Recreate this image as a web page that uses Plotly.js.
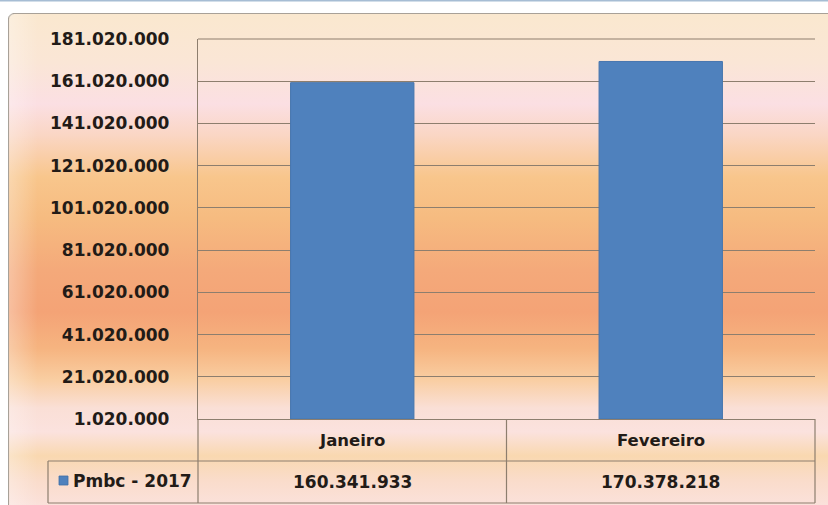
<!DOCTYPE html>
<html>
<head>
<meta charset="utf-8">
<script src="https://cdn.plot.ly/plotly-3.0.1.min.js"></script>
<style>
  html, body { margin: 0; padding: 0; background: #ffffff; }
  #chart { width: 828px; height: 505px; }
</style>
</head>
<body>
<div id="chart"></div>
<script>
// ---- data ----
const categories = ["Janeiro", "Fevereiro"];
const seriesName = "Pmbc - 2017";
const seriesValues = [160341933, 170378218];
const yTickValues = [1020000, 21020000, 41020000, 61020000, 81020000, 101020000, 121020000, 141020000, 161020000, 181020000];

// ---- helpers ----
function fmt(n) {
  return String(Math.round(n)).replace(/\B(?=(\d{3})+(?!\d))/g, ".");
}

const W = 828, H = 505;
const M = { l: 198, r: 13, t: 39, b: 86 };
const PW = W - M.l - M.r, PH = H - M.t - M.b;
const px = x => (x - M.l) / PW;          // pixel x -> paper x
const py = y => (H - M.b - y) / PH;      // pixel y -> paper y

const lineCol = "#8d7e6e";
const textCol = "#221b17";
const fontFam = "DejaVu Sans";

// background gradient as svg image
const bgW = 820, bgH = 492;
const stops = [
  [13, "#fae8cf"], [60, "#fae6d6"], [100, "#fbdfe3"], [130, "#fad6c4"],
  [170, "#f8c68c"], [210, "#f6bb80"], [260, "#f4a97a"], [300, "#f4a376"],
  [335, "#f6b480"], [365, "#f9cea2"], [392, "#fadfd6"], [415, "#fbe2de"],
  [438, "#f9d8b0"], [462, "#fadccb"], [490, "#fbe2de"], [505, "#fbe3df"]
];
let stopXml = stops.map(s => `<stop offset="${((s[0] - 13) / bgH).toFixed(4)}" stop-color="${s[1]}"/>`).join("");
const svg = `<svg xmlns="http://www.w3.org/2000/svg" width="${bgW}" height="${bgH}" viewBox="0 0 ${bgW} ${bgH}">` +
  `<defs><linearGradient id="g" x1="0" y1="0" x2="0" y2="1">${stopXml}</linearGradient>` +
  `<linearGradient id="h" x1="0" y1="0" x2="1" y2="0"><stop offset="0" stop-color="#ffffff" stop-opacity="0.3"/><stop offset="0.035" stop-color="#ffffff" stop-opacity="0"/></linearGradient></defs>` +
  `<rect x="0.5" y="0.5" width="${bgW + 20}" height="${bgH + 20}" rx="6" ry="6" fill="url(#g)" stroke="#a8a198" stroke-width="1.2"/>` +
  `<rect x="1" y="1" width="${bgW}" height="${bgH}" fill="url(#h)"/>` +
  `</svg>`;
const bgSrc = "data:image/svg+xml;charset=utf-8," + encodeURIComponent(svg);

const trace = {
  type: "bar",
  x: categories,
  y: seriesValues.map(v => v - yTickValues[0]),
  base: yTickValues[0],
  name: seriesName,
  width: 0.4,
  marker: { color: "#4f81bd", line: { color: "#4776ae", width: 1 } },
  showlegend: false,
  hoverinfo: "skip"
};

const annotations = [];
categories.forEach((c, i) => {
  annotations.push({
    xref: "x", yref: "paper", x: c, y: py(440), text: c, showarrow: false,
    xanchor: "center", yanchor: "middle",
    font: { family: fontFam, size: 16.5, color: textCol, weight: "bold" }
  });
  annotations.push({
    xref: "x", yref: "paper", x: c, y: py(482), text: fmt(seriesValues[i]), showarrow: false,
    xanchor: "center", yanchor: "middle",
    font: { family: fontFam, size: 17, color: textCol, weight: "bold" }
  });
});
annotations.push({
  xref: "paper", yref: "paper", x: px(71), y: py(481), text: seriesName, showarrow: false,
  xanchor: "left", yanchor: "middle",
  font: { family: fontFam, size: 17, color: textCol, weight: "bold" }
});

const ln = (x0, y0, x1, y1, xr) => ({
  type: "line", xref: xr || "paper", yref: "paper", x0, y0, x1, y1,
  line: { color: lineCol, width: 1.2 }, layer: "above"
});

const shapes = [
  // top thin blue line of the frame
  { type: "line", xref: "paper", yref: "paper", x0: px(0), x1: px(828), y0: py(0.5), y1: py(0.5),
    line: { color: "#a6bdd4", width: 2 } },
  // top gridline (range edge)
  { type: "line", xref: "paper", yref: "paper", x0: 0, x1: 1, y0: 1, y1: 1,
    line: { color: lineCol, width: 1.2 }, layer: "below" },
  // data table grid
  ln(px(48), py(461), 1, py(461)),
  ln(px(48), py(503), 1, py(503)),
  ln(px(48), py(461), px(48), py(503)),
  ln(0, 0, 0, py(503)),
  ln(1, 0, 1, py(503)),
  { type: "line", xref: "x", yref: "paper", x0: 0.5, x1: 0.5, y0: 0, y1: py(503),
    line: { color: lineCol, width: 1.2 }, layer: "above" },
  // legend key square
  { type: "rect", xref: "paper", yref: "paper", x0: px(59), x1: px(68), y0: py(476), y1: py(485),
    fillcolor: "#4f81bd", line: { color: "#3f6fa6", width: 0.8 } }
];

const layout = {
  width: W, height: H,
  margin: M,
  paper_bgcolor: "#ffffff",
  plot_bgcolor: "rgba(0,0,0,0)",
  separators: ",.",
  showlegend: false,
  bargap: 0.6,
  xaxis: {
    type: "category",
    range: [-0.5, 1.5],
    showgrid: false, zeroline: false,
    showticklabels: false, ticks: "",
    showline: true, linecolor: lineCol, linewidth: 1.2,
    fixedrange: true
  },
  yaxis: {
    range: [yTickValues[0], yTickValues[yTickValues.length - 1]],
    tickmode: "array",
    tickvals: yTickValues,
    ticktext: yTickValues.map(fmt),
    showgrid: true, gridcolor: lineCol, gridwidth: 1.2,
    zeroline: false,
    showline: true, linecolor: lineCol, linewidth: 1.2,
    ticks: "", ticklabelstandoff: 24,
    tickfont: { family: fontFam, size: 17, color: textCol, weight: "bold" },
    fixedrange: true
  },
  images: [{
    source: bgSrc, xref: "paper", yref: "paper",
    x: px(8), y: py(13), sizex: bgW / PW, sizey: bgH / PH,
    xanchor: "left", yanchor: "top", sizing: "stretch", layer: "below"
  }],
  annotations, shapes
};

Plotly.newPlot("chart", [trace], layout, { staticPlot: true, displayModeBar: false });
</script>
</body>
</html>
